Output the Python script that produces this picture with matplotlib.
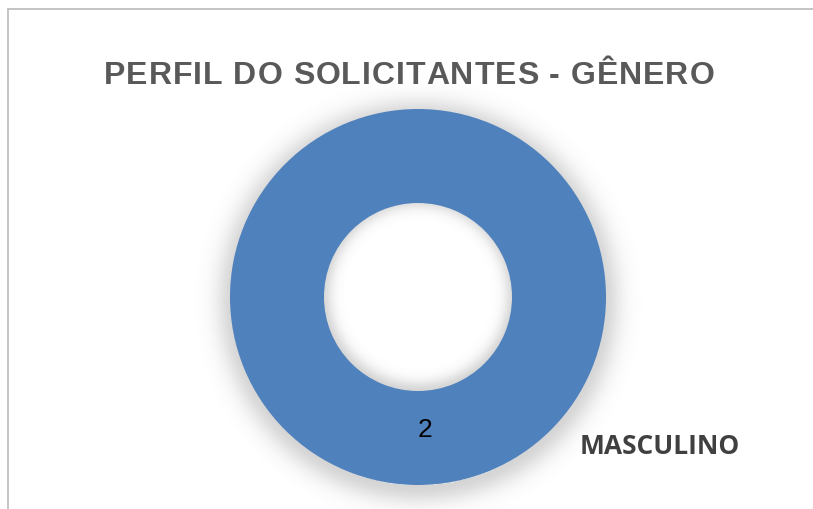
import numpy as np
import matplotlib
matplotlib.use("Agg")
from matplotlib import pyplot as plt
from matplotlib import patches as patches
from matplotlib.textpath import TextPath
from matplotlib.font_manager import FontProperties

# data
categories = ["MASCULINO"]
counts = [2]
title = "PERFIL DO SOLICITANTES - GÊNERO"
ring_color = "#4f81bd"

W, H = 813, 510
fig = plt.figure(figsize=(W / 100, H / 100), dpi=100)
fig.patch.set_facecolor("white")

# chart frame (cut off on right and bottom like the screenshot)
frame = patches.Rectangle((8 / W, -0.05), 1.2, (H - 10) / H + 0.05,
                          transform=fig.transFigure, fill=False,
                          edgecolor="#bfbfbf", linewidth=1.3)
fig.patches.append(frame)

# title with a little letter spacing (drawn char by char)
tsize = 23
tfont = FontProperties(family="Liberation Sans", weight="bold", size=tsize)
spacing = 1.0
scale = 100 / 72


def adv(ch):
    ref = TextPath((0, 0), "||", prop=tfont).get_extents().width
    return TextPath((0, 0), "|" + ch + "|", prop=tfont).get_extents().width - ref


widths = [adv(ch) * scale for ch in title]
total = sum(widths) + spacing * (len(title) - 1)
x = 409 - total / 2
for ch, w in zip(title, widths):
    fig.text(x / W, 1 - 84 / H, ch, ha="left", va="baseline",
             fontproperties=tfont, color="#595959")
    x += w + spacing

# donut axes, centre (418, 298) px, outer radius 188 px
cx, cy, rad = 418, 298, 188
lim = 1.3
half = rad * lim
ax = fig.add_axes([(cx - half) / W, (H - cy - half) / H, 2 * half / W, 2 * half / H])
ax.set_xlim(-lim, lim)
ax.set_ylim(-lim, lim)
ax.axis("off")

# soft shadow around the ring
n = 400
xs = np.linspace(-lim, lim, n)
X, Y = np.meshgrid(xs, xs)
r = np.hypot(X, Y + 0.025)
a = np.zeros_like(r)
outer = r > 0.98
a[outer] = np.exp(-((r[outer] - 0.98) / 0.1) ** 2)
ri = np.hypot(X, Y - 0.01)
inner = ri < 0.52
a[inner] = np.exp(-((0.52 - ri[inner]) / 0.06) ** 2)
img = np.zeros((n, n, 4))
img[..., :3] = 0.5
img[..., 3] = a * 0.33
ax.imshow(img, extent=(-lim, lim, -lim, lim), origin="lower", zorder=0,
          interpolation="bilinear")

wedges, texts, autotexts = ax.pie(
    counts, colors=[ring_color], startangle=93, radius=1,
    wedgeprops=dict(width=0.5, edgecolor=ring_color, linewidth=0),
    autopct=lambda p: f"{p * sum(counts) / 100:.0f}", pctdistance=0.705,
    textprops=dict(fontsize=19, color="black", family="Liberation Sans"))
ax.set_xlim(-lim, lim)
ax.set_ylim(-lim, lim)
for w in wedges:
    w.set_zorder(2)

ax.text(1.285, -0.79, categories[0], ha="center", va="center",
        fontsize=19, fontweight="bold", color="#404040", family="Open Sans")

fig.savefig("out.png", dpi=100)
